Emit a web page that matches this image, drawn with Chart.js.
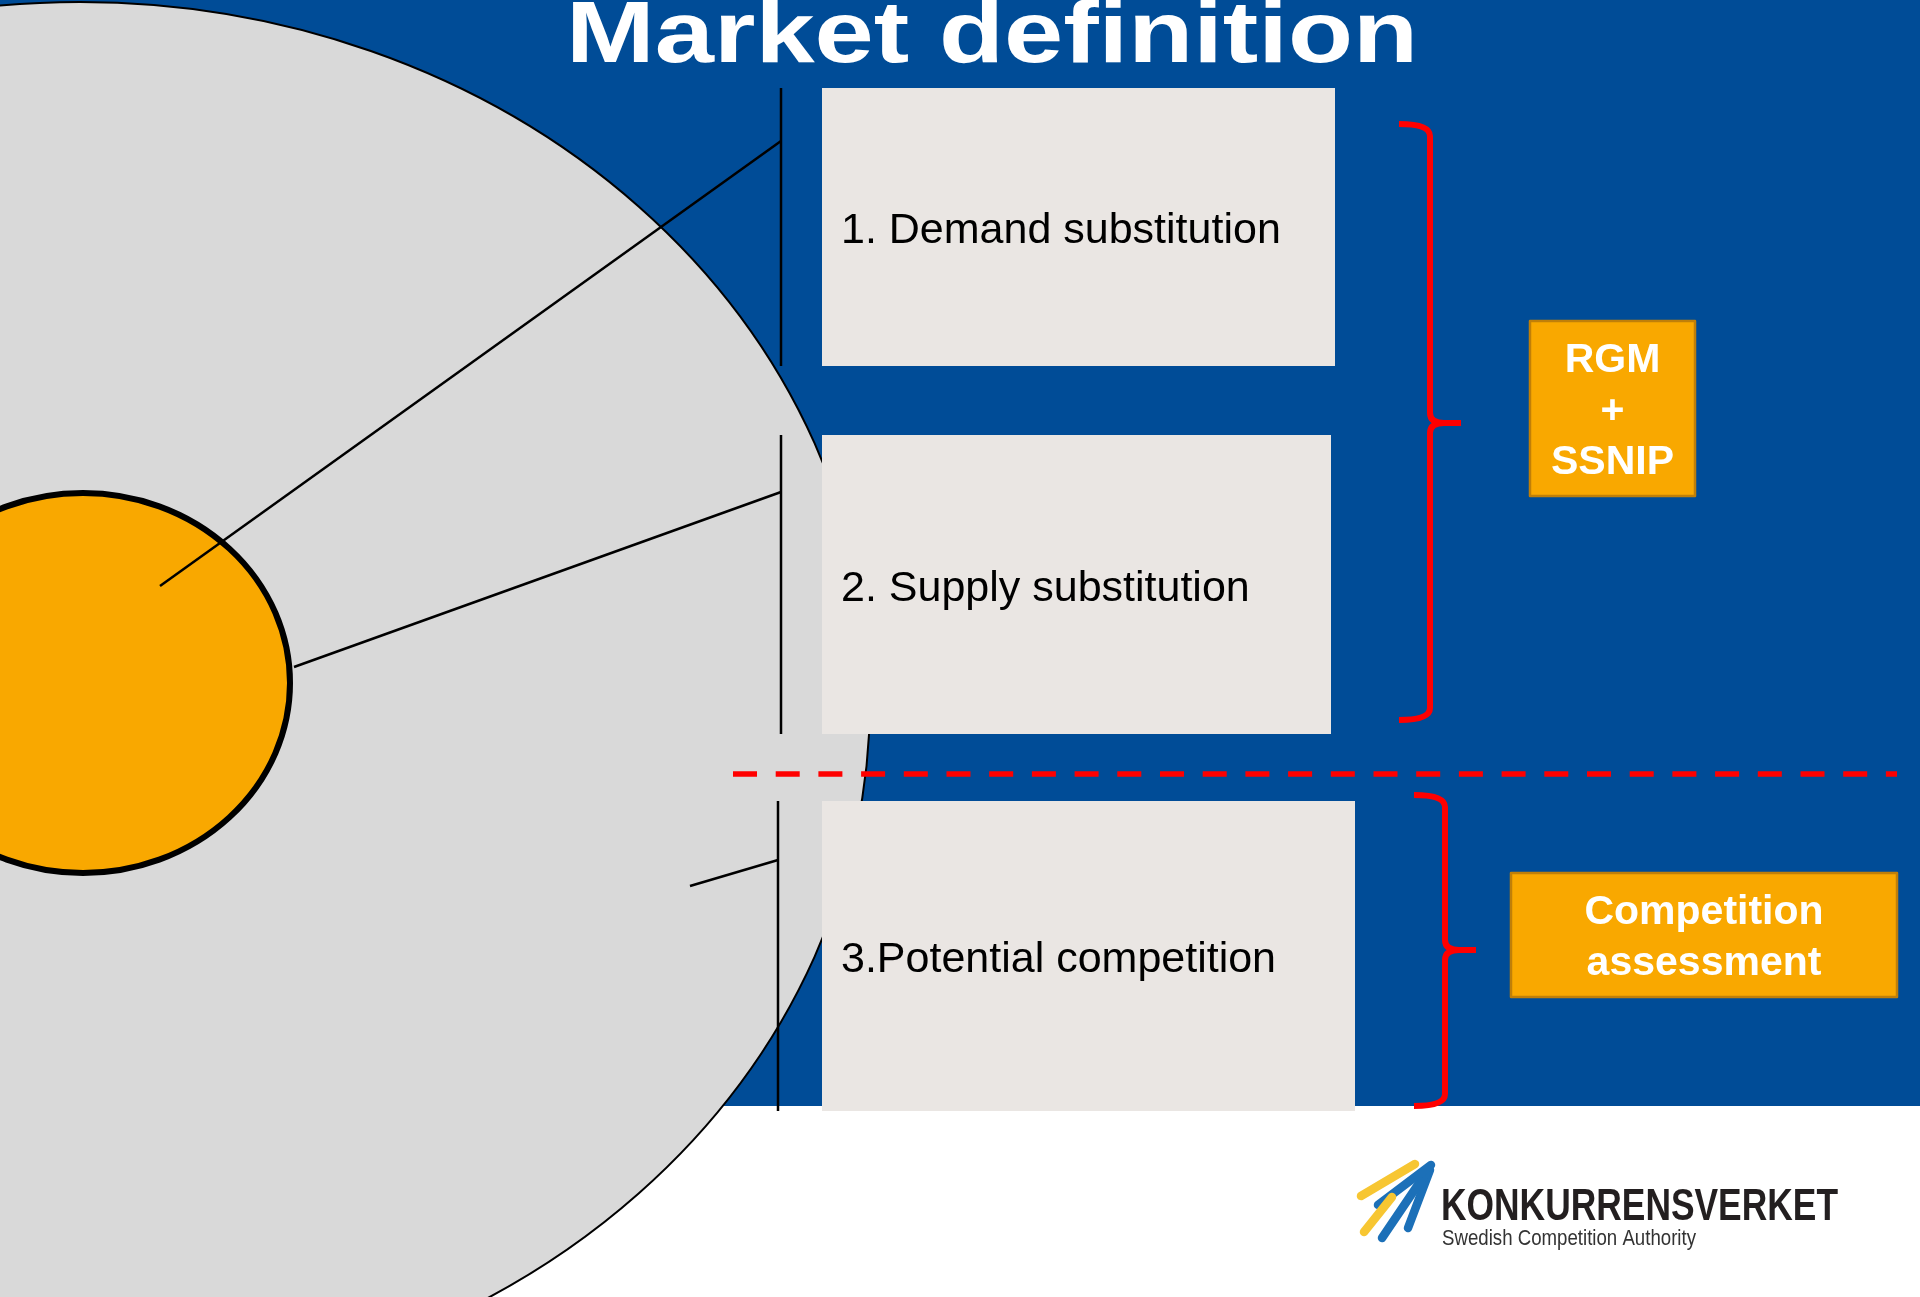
<!DOCTYPE html>
<html><head><meta charset="utf-8">
<script src="https://cdn.jsdelivr.net/npm/chart.js@4.4.1/dist/chart.umd.min.js"></script>
<style>
html,body{margin:0;padding:0;background:#fff;overflow:hidden}
#wrap{width:1920px;height:1297px;position:relative}
</style>
</head><body>
<div id="wrap"><canvas id="c" width="1920" height="1297"></canvas></div>
<script>
// ---------------- diagram values (in slide units on hidden axes 0..1920 x 0..1297) ----------------
const titleText = 'Market definition';
const boxLabels = ['1. Demand substitution', '2. Supply substitution', '3.Potential competition'];
const boxLeft   = [822, 822, 822];
const boxRight  = [1335, 1331, 1355];
const boxTop    = [88, 435, 801];
const boxBottom = [366, 734, 1111];
const stemX     = [781, 781, 778];
const connFromX = [160, 294, 690];
const connFromY = [586, 667, 886];
const connToY   = [141, 492, 860];
const outcomeLines  = [['RGM', '+', 'SSNIP'], ['Competition', 'assessment']];
const outcomeLeft   = [1530, 1511];
const outcomeRight  = [1695, 1897];
const outcomeTop    = [321, 873];
const outcomeBottom = [496, 997];
const braceTop    = [124, 795];
const braceMid    = [423, 950];
const braceBottom = [720, 1106];
const braceX      = [1430, 1445];
const marketOval  = [80, 700, 790, 698];   // centre x, centre y, radius x, radius y
const productOval = [83, 683, 207, 190];
const dividerX = [733, 1897];
const dividerY = 774;
const bandBottom = 1106;
const logoName = 'KONKURRENSVERKET';
const logoSub  = 'Swedish Competition Authority';
const logoYellowX = [[1361, 1415], [1364, 1392]];
const logoYellowY = [[1196, 1164], [1232, 1197]];
const logoBlueX   = [[1378, 1431], [1382, 1428], [1408, 1430]];
const logoBlueY   = [[1205, 1165], [1238, 1170], [1228, 1170]];

// ---------------- colours ----------------
const BLUE = '#004C97', GREY = '#D9D9D9', BOX = '#EAE6E3', ORANGE = '#F9A800', RED = '#FF0000';
const FONT = '"Liberation Sans", Arial, Helvetica, sans-serif';

// ---------------- datasets ----------------
const datasets = [];
function seg(x1, y1, x2, y2, extra) {
  return Object.assign({
    data: [{x: x1, y: y1}, {x: x2, y: y2}],
    showLine: true, pointRadius: 0, borderColor: '#000', borderWidth: 2.5,
    borderCapStyle: 'butt', fill: false, tension: 0
  }, extra || {});
}
for (let i = 0; i < boxLabels.length; i++) {
  datasets.push(seg(stemX[i], boxTop[i], stemX[i], boxBottom[i]));
  datasets.push(seg(connFromX[i], connFromY[i], stemX[i], connToY[i]));
}
datasets.push(seg(dividerX[0], dividerY, dividerX[1], dividerY, {borderColor: RED, borderWidth: 5.5, borderDash: [24, 18.7]}));
for (let i = 0; i < logoYellowX.length; i++)
  datasets.push(seg(logoYellowX[i][0], logoYellowY[i][0], logoYellowX[i][1], logoYellowY[i][1], {borderColor: '#F7C632', borderWidth: 8.5, borderCapStyle: 'round'}));
for (let i = 0; i < logoBlueX.length; i++)
  datasets.push(seg(logoBlueX[i][0], logoBlueY[i][0], logoBlueX[i][1], logoBlueY[i][1], {borderColor: '#1C70B8', borderWidth: 8.5, borderCapStyle: 'round'}));

// ---------------- drawing plugin ----------------
const diagram = {
  id: 'diagram',
  beforeDatasetsDraw(chart) {
    const ctx = chart.ctx, xs = chart.scales.x, ys = chart.scales.y;
    const X = v => xs.getPixelForValue(v), Y = v => ys.getPixelForValue(v);
    ctx.save();
    ctx.fillStyle = '#fff';
    ctx.fillRect(X(0), Y(0), X(1920) - X(0), Y(1297) - Y(0));
    ctx.fillStyle = BLUE;
    ctx.fillRect(X(0), Y(0), X(1920) - X(0), Y(bandBottom) - Y(0));
    // market oval
    ctx.beginPath();
    ctx.ellipse(X(marketOval[0]), Y(marketOval[1]), X(marketOval[0] + marketOval[2]) - X(marketOval[0]), Y(marketOval[1] + marketOval[3]) - Y(marketOval[1]), 0, 0, Math.PI * 2);
    ctx.fillStyle = GREY; ctx.fill();
    ctx.lineWidth = 2; ctx.strokeStyle = '#000'; ctx.stroke();
    // boxes
    ctx.fillStyle = BOX;
    for (let i = 0; i < boxLabels.length; i++)
      ctx.fillRect(X(boxLeft[i]), Y(boxTop[i]), X(boxRight[i]) - X(boxLeft[i]), Y(boxBottom[i]) - Y(boxTop[i]));
    // product oval
    ctx.beginPath();
    ctx.ellipse(X(productOval[0]), Y(productOval[1]), X(productOval[0] + productOval[2]) - X(productOval[0]), Y(productOval[1] + productOval[3]) - Y(productOval[1]), 0, 0, Math.PI * 2);
    ctx.fillStyle = ORANGE; ctx.fill();
    ctx.lineWidth = 6; ctx.strokeStyle = '#000'; ctx.stroke();
    ctx.restore();
  },
  afterDatasetsDraw(chart) {
    const ctx = chart.ctx, xs = chart.scales.x, ys = chart.scales.y;
    const X = v => xs.getPixelForValue(v), Y = v => ys.getPixelForValue(v);
    ctx.save();
    // braces
    ctx.strokeStyle = RED; ctx.lineWidth = 6; ctx.lineCap = 'butt'; ctx.lineJoin = 'round';
    for (let i = 0; i < braceX.length; i++) {
      const xv = X(braceX[i]), t = Y(braceTop[i]), m = Y(braceMid[i]), b = Y(braceBottom[i]);
      ctx.beginPath();
      ctx.moveTo(xv - 31, t);
      ctx.quadraticCurveTo(xv, t, xv, t + 12);
      ctx.lineTo(xv, m - 10);
      ctx.quadraticCurveTo(xv, m, xv + 14, m);
      ctx.lineTo(xv + 31, m);
      ctx.moveTo(xv + 14, m);
      ctx.quadraticCurveTo(xv, m, xv, m + 10);
      ctx.lineTo(xv, b - 12);
      ctx.quadraticCurveTo(xv, b, xv - 31, b);
      ctx.stroke();
    }
    // outcome boxes
    for (let i = 0; i < outcomeLines.length; i++) {
      const l = X(outcomeLeft[i]), r = X(outcomeRight[i]), t = Y(outcomeTop[i]), b = Y(outcomeBottom[i]);
      ctx.fillStyle = ORANGE; ctx.fillRect(l, t, r - l, b - t);
      ctx.strokeStyle = '#C07F08'; ctx.lineWidth = 2.5; ctx.strokeRect(l, t, r - l, b - t);
      ctx.fillStyle = '#fff'; ctx.font = 'bold 41px ' + FONT; ctx.textAlign = 'center'; ctx.textBaseline = 'alphabetic';
      const n = outcomeLines[i].length, cx = (l + r) / 2, cy = (t + b) / 2;
      outcomeLines[i].forEach((s, k) => ctx.fillText(s, cx, cy + (k - (n - 1) / 2) * 51 + 14.5));
    }
    // box labels
    ctx.fillStyle = '#000'; ctx.font = '43px ' + FONT; ctx.textAlign = 'left'; ctx.textBaseline = 'alphabetic';
    for (let i = 0; i < boxLabels.length; i++)
      ctx.fillText(boxLabels[i], X(boxLeft[i]) + 19, (Y(boxTop[i]) + Y(boxBottom[i])) / 2 + 16);
    // title
    ctx.font = 'bold 87px ' + FONT; ctx.fillStyle = '#fff'; ctx.textAlign = 'center';
    const w = ctx.measureText(titleText).width;
    ctx.save();
    ctx.translate(X(992), Y(62));
    ctx.scale(852 / w, 1);
    ctx.fillText(titleText, 0, 0);
    ctx.restore();
    // logo text
    ctx.textAlign = 'left';
    ctx.fillStyle = '#231F20'; ctx.font = 'bold 45px ' + FONT;
    ctx.fillText(logoName, X(1441), Y(1220), 397);
    ctx.fillStyle = '#333'; ctx.font = '22px ' + FONT;
    ctx.fillText(logoSub, X(1442), Y(1245), 254);
    ctx.restore();
  }
};

new Chart(document.getElementById('c'), {
  type: 'scatter',
  data: { datasets },
  options: {
    responsive: false, animation: false, events: [],
    layout: { padding: 0 },
    plugins: { legend: { display: false }, tooltip: { enabled: false }, title: { display: false } },
    scales: {
      x: { type: 'linear', min: 0, max: 1920, display: false },
      y: { type: 'linear', min: 0, max: 1297, reverse: true, display: false }
    }
  },
  plugins: [diagram]
});
</script>
</body></html>
